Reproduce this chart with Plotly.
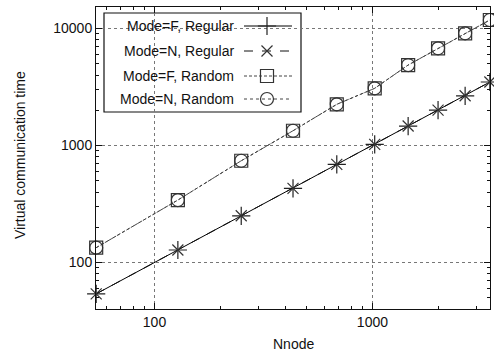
import plotly.graph_objects as go
import numpy as np

# ---- data ----
nnode = [54, 128, 250, 432, 686, 1024, 1458, 2000, 2662, 3456]
f_regular = [54, 128, 251, 430, 690, 1024, 1468, 2010, 2662, 3490]
n_regular = [54, 128, 251, 430, 690, 1024, 1468, 2010, 2662, 3490]
f_random = [134, 342, 741, 1338, 2250, 3083, 4875, 6775, 9100, 11830]
n_random = [134, 342, 741, 1338, 2250, 3083, 4875, 6775, 9100, 11830]
series_names = ["Mode=F, Regular", "Mode=N, Regular", "Mode=F, Random", "Mode=N, Random"]
x_ticks = [100, 1000]
x_tick_labels = ["100", "1000"]
y_ticks = [100, 1000, 10000]
y_tick_labels = ["100", "1000", "10000"]

FONT = "Liberation Sans, Arial, sans-serif"
styles = [
    dict(dash="solid", symbol="cross-thin-open", size=13, lc="#000000", mc="#222222"),
    dict(dash="dash", symbol="x-thin-open", size=11, lc="#111111", mc="#333333"),
    dict(dash="3px,2px", symbol="square-open", size=13, lc="#444444", mc="#333333"),
    dict(dash="dot", symbol="circle-open", size=13, lc="#444444", mc="#333333"),
]
ys = [f_regular, n_regular, f_random, n_random]

fig = go.Figure()
for name, y, st in zip(series_names, ys, styles):
    fig.add_trace(go.Scatter(
        x=nnode, y=y, mode="lines+markers", name=name, showlegend=False,
        line=dict(color=st["lc"], width=1, dash=st["dash"]),
        marker=dict(symbol=st["symbol"], size=st["size"], color=st["mc"],
                    line=dict(width=1.2, color=st["mc"])),
        cliponaxis=False,
    ))

# custom gnuplot-style legend (text left, sample right)
W, H = 494, 353
L, R, T, B = 96, 4, 7, 44
pw, ph = W - L - R, H - T - B
def px(x): return (x - L) / pw
def py(y): return (H - B - y) / ph

rows = [26, 51, 76, 99]
for name, st, ry in zip(series_names, styles, rows):
    fig.add_trace(go.Scatter(
        x=[px(244), px(292)], y=[py(ry), py(ry)], mode="lines", xaxis="x2", yaxis="y2",
        showlegend=False, hoverinfo="skip",
        line=dict(color=st["lc"], width=1, dash=st["dash"]),
    ))
    fig.add_trace(go.Scatter(
        x=[px(267)], y=[py(ry)], mode="markers", xaxis="x2", yaxis="y2",
        showlegend=False, hoverinfo="skip",
        marker=dict(symbol=st["symbol"], size=st["size"], color=st["mc"],
                    line=dict(width=1.2, color=st["mc"])),
    ))
    fig.add_annotation(x=px(236), y=py(ry), xref="paper", yref="paper", text=name,
                       showarrow=False, xanchor="right", yanchor="middle",
                       font=dict(family=FONT, size=14, color="#111"))

fig.add_shape(type="rect", xref="paper", yref="paper",
              x0=px(104), x1=px(301), y0=py(112), y1=py(13),
              line=dict(color="#111", width=1.2), fillcolor="white", layer="between")

axis_common = dict(
    type="log", showline=True, linecolor="#111", linewidth=1, mirror="allticks",
    ticks="inside", ticklen=6, tickcolor="#111",
    showgrid=True, gridcolor="#777", griddash="dot", gridwidth=1,
    zeroline=False, tickfont=dict(family=FONT, size=14, color="#111"),
)
minor_x = [60, 70, 80, 90, 200, 300, 400, 500, 600, 700, 800, 900, 2000, 3000]
minor_y = [50, 60, 70, 80, 90, 200, 300, 400, 500, 600, 700, 800, 900,
           2000, 3000, 4000, 5000, 6000, 7000, 8000, 9000]
fig.update_xaxes(**axis_common, range=[np.log10(53.9), np.log10(3462)],
                 tickvals=x_ticks, ticktext=x_tick_labels,
                 minor=dict(tickvals=minor_x, ticks="inside", ticklen=3, tickcolor="#111", showgrid=False))
fig.update_yaxes(**axis_common, range=[1.603, 4.184],
                 tickvals=y_ticks, ticktext=y_tick_labels,
                 minor=dict(tickvals=minor_y, ticks="inside", ticklen=3, tickcolor="#111", showgrid=False))

fig.update_layout(
    width=W, height=H, margin=dict(l=L, r=R, t=T, b=B),
    paper_bgcolor="white", plot_bgcolor="white",
    xaxis2=dict(overlaying="x", range=[0, 1], visible=False, domain=[0, 1]),
    yaxis2=dict(overlaying="y", range=[0, 1], visible=False, domain=[0, 1]),
    font=dict(family=FONT, size=14, color="#111"),
)
fig.add_annotation(x=0.5, y=py(344), xref="paper", yref="paper", text="Nnode",
                   showarrow=False, xanchor="center", yanchor="middle",
                   font=dict(family=FONT, size=14, color="#111"))
fig.add_annotation(x=px(20), y=py(155), xref="paper", yref="paper",
                   text="Virtual communication time", textangle=-90,
                   showarrow=False, xanchor="center", yanchor="middle",
                   font=dict(family=FONT, size=14, color="#111"))

fig.write_html("out.html", config={"displayModeBar": False},
               post_script="document.body.style.margin='0';document.body.style.padding='0';")
